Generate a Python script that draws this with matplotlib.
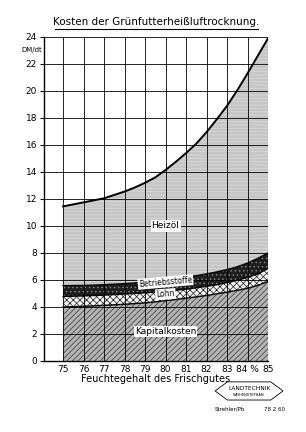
import numpy as np
import matplotlib.pyplot as plt
from matplotlib.patches import Polygon

plt.rcParams['font.family'] = ['DejaVu Sans']
plt.rcParams['hatch.linewidth'] = 0.5

# Feuchtegehalt (%) read at half steps, cumulative cost levels (DM/dt)
moisture = [75, 75.5, 76, 76.5, 77, 77.5, 78, 78.5, 79, 79.5, 80,
            80.5, 81, 81.5, 82, 82.5, 83, 83.5, 84, 84.5, 85]
kapital = [4.0, 4.02, 4.05, 4.08, 4.12, 4.16, 4.2, 4.25, 4.3, 4.38, 4.47,
           4.55, 4.65, 4.75, 4.85, 4.97, 5.1, 5.23, 5.38, 5.6, 5.88]
lohn = [4.78, 4.8, 4.82, 4.85, 4.88, 4.92, 4.96, 5.0, 5.05, 5.1, 5.16,
        5.24, 5.32, 5.42, 5.53, 5.65, 5.8, 5.98, 6.18, 6.45, 6.85]
betrieb = [5.58, 5.59, 5.6, 5.62, 5.65, 5.69, 5.73, 5.78, 5.84, 5.91, 6.0,
           6.1, 6.2, 6.32, 6.45, 6.6, 6.77, 6.98, 7.25, 7.6, 8.0]
heizoel = [11.45, 11.6, 11.75, 11.9, 12.05, 12.3, 12.55, 12.85, 13.2, 13.6, 14.15,
           14.75, 15.4, 16.1, 16.95, 17.9, 18.9, 20.05, 21.3, 22.6, 23.9]

xticks = [75, 76, 77, 78, 79, 80, 81, 82, 83, 84, 85]
xlabels = ['75', '76', '77', '78', '79', '80', '81', '82', '83', '84 %', '85']
yticks = list(range(0, 25, 2))

fig = plt.figure(figsize=(3.06, 4.32), dpi=100)
ax = fig.add_axes([0.1438, 0.1644, 0.732, 0.75])

x = np.array(moisture)
ax.fill_between(x, 0, kapital, facecolor='#b4b4b4', hatch='//////',
                edgecolor='#333333', linewidth=0, zorder=1)
ax.fill_between(x, kapital, lohn, facecolor='#f2f2f2', hatch='xxxxx',
                edgecolor='#202020', linewidth=0, zorder=1)
ax.fill_between(x, lohn, betrieb, facecolor='#1e1e1e', hatch='....',
                edgecolor='#8a8a8a', linewidth=0, zorder=1)
ax.fill_between(x, betrieb, heizoel, facecolor='#c6c6c6', hatch='-----',
                edgecolor='#dadada', linewidth=0, zorder=1)

for y in (kapital, lohn, betrieb):
    ax.plot(x, y, color='black', lw=1.0, zorder=3)
ax.plot(x, heizoel, color='black', lw=1.4, zorder=3)

# grid
for v in xticks:
    ax.axvline(v, color='black', lw=0.6, zorder=2)
for v in yticks:
    ax.axhline(v, color='black', lw=0.6, zorder=2)

ax.set_xlim(74.07, 85)
ax.set_ylim(0, 24)
ax.set_xticks(xticks)
ax.set_xticklabels(xlabels)
ax.set_yticks(yticks)
ax.tick_params(axis='both', labelsize=6.5, length=3, width=0.8, pad=2)
ax.tick_params(axis='x', length=0, pad=3)
for s in ('top', 'right'):
    ax.spines[s].set_visible(False)
ax.spines['left'].set_linewidth(1.0)
ax.spines['bottom'].set_linewidth(1.0)
ax.set_xlabel('Feuchtegehalt des Frischgutes', fontsize=7, labelpad=0)
ax.text(74.0, 23.0, 'DM/dt', fontsize=5, ha='right', va='center')

box = dict(boxstyle='square,pad=0.12', facecolor='white', edgecolor='none')
ax.text(80.0, 10, 'Heizöl', fontsize=6.5, ha='center', va='center', bbox=box, zorder=5)
ax.text(80.0, 5.85, 'Betriebsstoffe', fontsize=5.5, ha='center', va='center',
        rotation=5, bbox=box, zorder=5)
ax.text(80.0, 4.95, 'Lohn', fontsize=5.5, ha='center', va='center',
        rotation=4, bbox=box, zorder=4)
ax.text(80.0, 2.2, 'Kapitalkosten', fontsize=6.5, ha='center', va='center', bbox=box, zorder=5)

fig.text(0.51, 0.948, 'Kosten der Grünfutterheißluftrocknung.', fontsize=7.5,
         ha='center', va='center')
fig.add_artist(plt.Line2D([0.18, 0.843], [0.934, 0.934], color='black', lw=0.8))

# logo
cx, cy = 0.814, 0.095
hw, hh, sl = 0.111, 0.021, 0.04
logo = Polygon([[cx - hw, cy], [cx - hw + sl, cy + hh], [cx + hw - sl, cy + hh],
                [cx + hw, cy], [cx + hw - sl, cy - hh], [cx - hw + sl, cy - hh]],
               closed=True, fill=False, edgecolor='black', lw=0.6, transform=fig.transFigure)
fig.add_artist(logo)
fig.text(cx, cy + 0.006, 'LANDTECHNIK', fontsize=4.2, ha='center', va='center')
fig.text(cx, cy - 0.009, 'WEIHENSTEPHAN', fontsize=2.6, ha='center', va='center')
fig.text(0.70, 0.053, 'Strehler/Pb', fontsize=4, ha='left', va='center')
fig.text(0.93, 0.053, '78 2 60', fontsize=4, ha='right', va='center')

fig.savefig('out.png', dpi=100, facecolor='white')
